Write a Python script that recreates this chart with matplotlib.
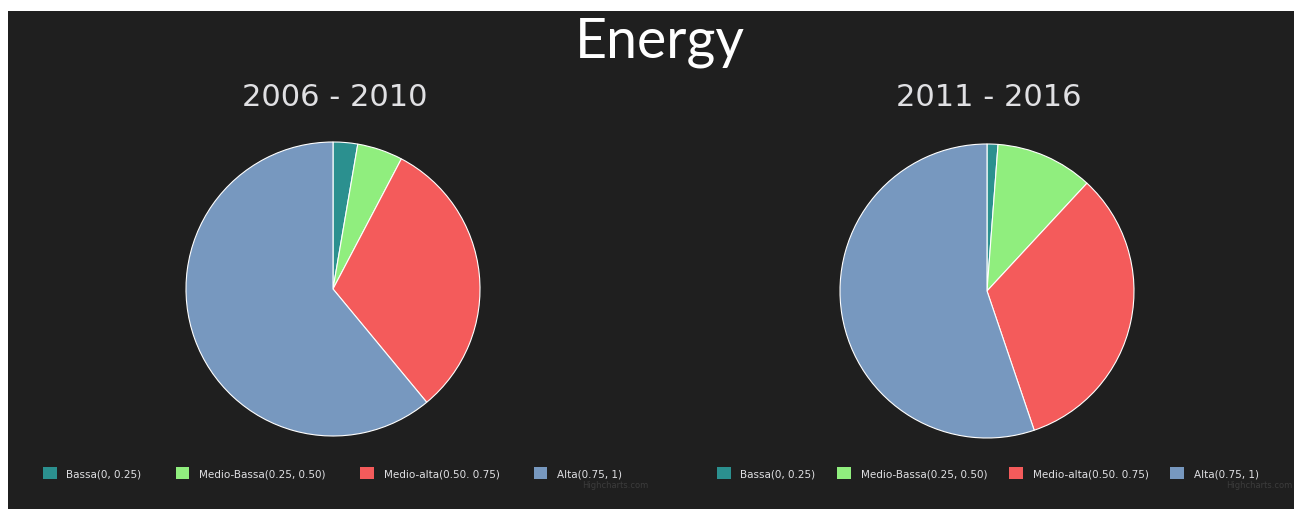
import matplotlib.pyplot as plt
from matplotlib.patches import Rectangle, Patch

labels = ['Bassa(0, 0.25)', 'Medio-Bassa(0.25, 0.50)', 'Medio-alta(0.50. 0.75)', 'Alta(0.75, 1)']
colors = ['#2b908f', '#90ee7e', '#f45b5b', '#7798bf']
periods = ['2006 - 2010', '2011 - 2016']
share_2006_2010 = [2.7, 5.0, 31.3, 61.0]
share_2011_2016 = [1.2, 10.7, 32.9, 55.2]

W, H = 1296, 510
bg = '#1f1f1f'
txt = '#e0e0e3'

fig = plt.figure(figsize=(W / 100, H / 100), dpi=100)
fig.patch.set_facecolor('white')
fig.add_artist(Rectangle((8 / W, 0), (W - 10) / W, (H - 12) / H,
                         transform=fig.transFigure, facecolor=bg, edgecolor='none', zorder=0))

fig.text(660 / W, 1 - 42 / H, 'Energy', color='white', fontsize=40,
         family=['Lato', 'DejaVu Sans'], ha='center', va='center')


def draw_pie(cx, cy, values, title, legend_x, colspace, mark_x):
    r = 147
    half = 150
    ax = fig.add_axes([(cx - half) / W, 1 - (cy + half) / H, 2 * half / W, 2 * half / H])
    ax.pie(values, colors=colors, startangle=90, counterclock=False,
           wedgeprops=dict(edgecolor='white', linewidth=0.8))
    lim = half / r
    ax.set_xlim(-lim, lim)
    ax.set_ylim(-lim, lim)
    ax.set_aspect('equal')
    ax.axis('off')
    fig.text((cx + 2) / W, 1 - 98 / H, title, color=txt, fontsize=22,
             family=['DejaVu Sans'], ha='center', va='center')
    handles = [Patch(facecolor=c, edgecolor='none') for c in colors]
    fig.legend(handles, labels, loc='center left', bbox_to_anchor=(legend_x / W, 1 - 474 / H),
               ncol=4, frameon=False, handlelength=1.3, handleheight=1.4, handletextpad=0.95,
               columnspacing=colspace, borderaxespad=0, borderpad=0,
               prop={'family': 'DejaVu Sans', 'size': 7.5}, labelcolor=txt)
    fig.text(mark_x / W, 1 - 486 / H, 'Highcharts.com', color='#3c3c3c',
             fontsize=6, ha='right', va='center')


draw_pie(333, 290, share_2006_2010, periods[0], 43, 3.3, 648)
draw_pie(987, 292, share_2011_2016, periods[1], 717, 2.1, 1292)

fig.savefig('out.png', dpi=100, facecolor=fig.get_facecolor())
